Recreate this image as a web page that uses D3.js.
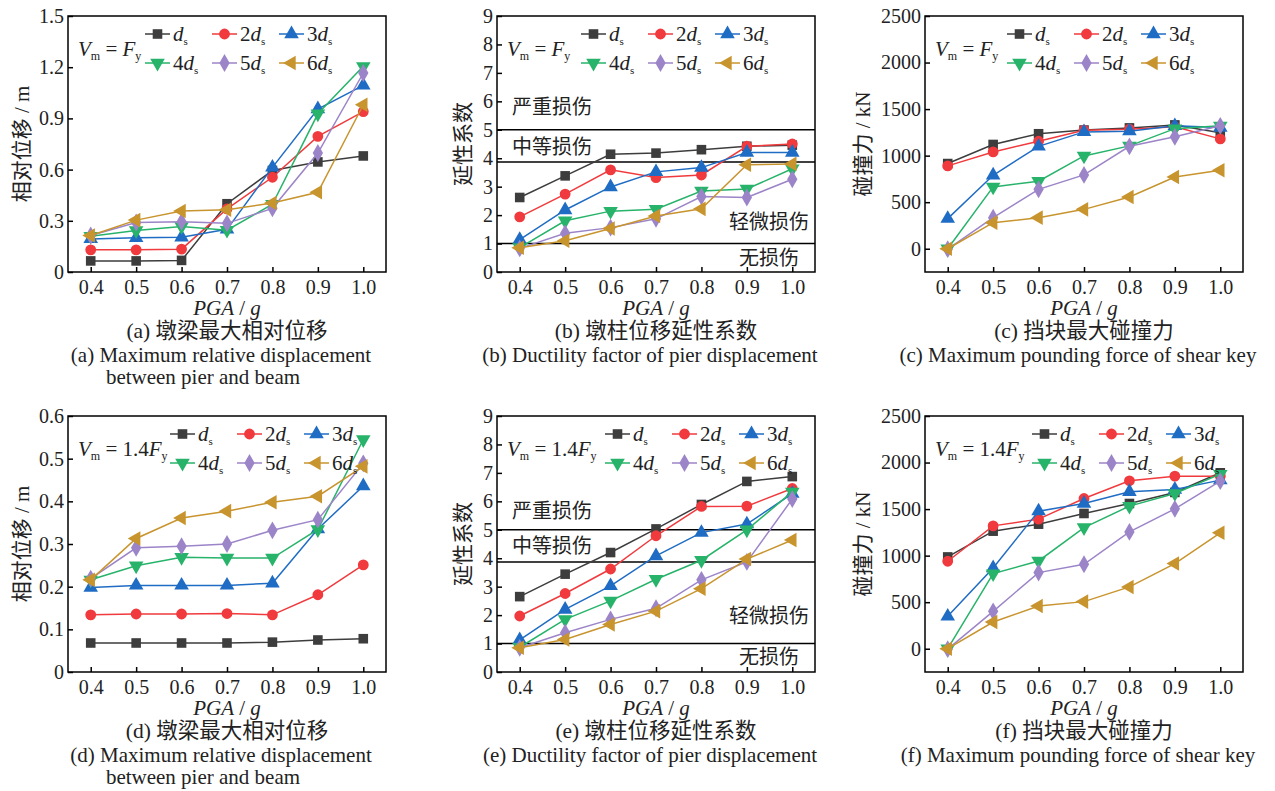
<!DOCTYPE html>
<html>
<head>
<meta charset="utf-8">
<script src="https://cdn.jsdelivr.net/npm/d3@7"></script>
<style>
  body { margin: 0; background: #fff; }
  svg { display: block; }
</style>
</head>
<body>
<div id="chart"></div>
<script>
// PGA levels (x axis)
const pga = [0.4, 0.5, 0.6, 0.7, 0.8, 0.9, 1.0];

// series: gap = d_s ... 6d_s
const seriesPrefix = ["", "2", "3", "4", "5", "6"];
const seriesColors = ["#3d3d3d", "#f03a3d", "#1f6cc4", "#27b36a", "#9c84c8", "#c8942e"];
const seriesSymbols = ["square", "circle", "up", "down", "diamond", "left"];

// (a) max relative displacement, Vm = Fy  (m)
const dispFy = [
  [0.065, 0.065, 0.068, 0.40, 0.595, 0.645, 0.68],
  [0.13, 0.13, 0.134, 0.37, 0.555, 0.795, 0.94],
  [0.194, 0.20, 0.204, 0.25, 0.613, 0.955, 1.094],
  [0.21, 0.243, 0.267, 0.245, 0.397, 0.927, 1.205],
  [0.214, 0.29, 0.295, 0.285, 0.373, 0.697, 1.166],
  [0.214, 0.304, 0.357, 0.365, 0.404, 0.467, 0.98]
];
// (b) ductility factor, Vm = Fy
const ductFy = [
  [2.62, 3.38, 4.14, 4.18, 4.30, 4.42, 4.46],
  [1.94, 2.74, 3.59, 3.32, 3.41, 4.42, 4.50],
  [1.14, 2.18, 2.99, 3.52, 3.67, 4.20, 4.20],
  [0.86, 1.80, 2.14, 2.21, 2.85, 2.92, 3.63],
  [0.83, 1.36, 1.56, 1.87, 2.65, 2.62, 3.26],
  [0.85, 1.10, 1.53, 1.97, 2.22, 3.77, 3.80]
];
// (c) max pounding force, Vm = Fy  (kN)
const forceFy = [
  [915, 1120, 1235, 1275, 1298, 1330, 1245],
  [890, 1040, 1155, 1273, 1284, 1310, 1180],
  [323, 789, 1100, 1255, 1263, 1320, 1302],
  [0, 664, 725, 997, 1105, 1290, 1320],
  [-5, 334, 638, 793, 1100, 1202, 1320],
  [0, 280, 334, 423, 556, 771, 843]
];
// (d) max relative displacement, Vm = 1.4Fy  (m)
const disp14 = [
  [0.068, 0.068, 0.068, 0.068, 0.070, 0.075, 0.078],
  [0.134, 0.136, 0.136, 0.137, 0.134, 0.181, 0.251],
  [0.198, 0.203, 0.203, 0.203, 0.208, 0.335, 0.436],
  [0.216, 0.249, 0.269, 0.267, 0.267, 0.334, 0.545],
  [0.219, 0.291, 0.295, 0.300, 0.332, 0.357, 0.489],
  [0.216, 0.313, 0.361, 0.377, 0.398, 0.412, 0.482]
];
// (e) ductility factor, Vm = 1.4Fy
const duct14 = [
  [2.65, 3.44, 4.20, 5.03, 5.89, 6.70, 6.87],
  [1.97, 2.76, 3.62, 4.79, 5.82, 5.83, 6.45],
  [1.13, 2.20, 3.03, 4.08, 4.90, 5.20, 6.27],
  [0.87, 1.85, 2.50, 3.26, 3.93, 5.00, 6.33],
  [0.85, 1.38, 1.85, 2.24, 3.24, 3.87, 6.08],
  [0.85, 1.14, 1.67, 2.14, 2.93, 3.97, 4.64]
];
// (f) max pounding force, Vm = 1.4Fy  (kN)
const force14 = [
  [986, 1263, 1338, 1453, 1560, 1679, 1890],
  [940, 1320, 1392, 1614, 1804, 1854, 1854],
  [348, 868, 1478, 1560, 1686, 1711, 1811],
  [0, 807, 943, 1302, 1532, 1668, 1876],
  [-5, 402, 818, 907, 1255, 1503, 1800],
  [0, 287, 459, 506, 664, 915, 1245]
];

// damage level thresholds and zone labels for ductility panels
const damageLines = [1, 3.87, 5];
const damageLabelsTop = [
  { text: "严重损伤", v: 5.8, side: "left" },
  { text: "中等损伤", v: 4.39, side: "left" },
  { text: "轻微损伤", v: 1.75, side: "right" },
  { text: "无损伤", v: 0.5, side: "right2" }
];
const damageLabelsBottom = [
  { text: "严重损伤", v: 5.68, side: "left" },
  { text: "中等损伤", v: 4.42, side: "left" },
  { text: "轻微损伤", v: 1.97, side: "right" },
  { text: "无损伤", v: 0.55, side: "right2" }
];

const dispTicks1 = [0, 0.3, 0.6, 0.9, 1.2, 1.5];
const dispTicks2 = [0, 0.1, 0.2, 0.3, 0.4, 0.5, 0.6];
const ductTicks = [0, 1, 2, 3, 4, 5, 6, 7, 8, 9];
const forceTicks = [0, 500, 1000, 1500, 2000, 2500];

const FONT = '"Liberation Serif", "Times New Roman", "Noto Sans CJK SC", serif';
const W = 318, H = 256;

const panels = [
  { left: 68, top: 16, data: dispFy, yDomain: [0, 1.5], ticks: dispTicks1, fmt: ".1f",
    yLabel: "相对位移 / m", yLabelX: 21, vm: "", legX: 77,
    cn: "(a) 墩梁最大相对位移", en: ["(a) Maximum relative displacement", "between pier and beam"] },
  { left: 497, top: 16, data: ductFy, yDomain: [0, 9], ticks: ductTicks, fmt: "d",
    yLabel: "延性系数", yLabelX: 462, vm: "", legX: 84, damage: damageLabelsTop,
    cn: "(b) 墩柱位移延性系数", en: ["(b) Ductility factor of pier displacement"] },
  { left: 925, top: 16, data: forceFy, yDomain: [-250, 2500], ticks: forceTicks, fmt: "d",
    yLabel: "碰撞力 / kN", yLabelX: 862, vm: "", legX: 82,
    cn: "(c) 挡块最大碰撞力", en: ["(c) Maximum pounding force of shear key"] },
  { left: 68, top: 416, data: disp14, yDomain: [0, 0.6], ticks: dispTicks2, fmt: ".1f",
    yLabel: "相对位移 / m", yLabelX: 21, vm: "1.4", legX: 102,
    cn: "(d) 墩梁最大相对位移", en: ["(d) Maximum relative displacement", "between pier and beam"] },
  { left: 497, top: 416, data: duct14, yDomain: [0, 9], ticks: ductTicks, fmt: "d",
    yLabel: "延性系数", yLabelX: 462, vm: "1.4", legX: 108, damage: damageLabelsBottom,
    cn: "(e) 墩柱位移延性系数", en: ["(e) Ductility factor of pier displacement"] },
  { left: 925, top: 416, data: force14, yDomain: [-250, 2500], ticks: forceTicks, fmt: "d",
    yLabel: "碰撞力 / kN", yLabelX: 862, vm: "1.4", legX: 107,
    cn: "(f) 挡块最大碰撞力", en: ["(f) Maximum pounding force of shear key"] }
];

const svg = d3.select("#chart").append("svg")
  .attr("width", 1275)
  .attr("height", 791)
  .attr("font-family", FONT);

function symbolPath(kind) {
  const s = 92;
  if (kind === "square") return d3.symbol().type(d3.symbolSquare).size(s)();
  if (kind === "circle") return d3.symbol().type(d3.symbolCircle).size(s)();
  if (kind === "diamond") return d3.symbol().type(d3.symbolDiamond).size(s)();
  return d3.symbol().type(d3.symbolTriangle).size(s)();
}
function symbolRotate(kind) {
  if (kind === "down") return 180;
  if (kind === "left") return -90;
  return 0;
}

panels.forEach(p => {
  const g = svg.append("g");
  const x = d3.scaleLinear().domain([0.35, 1.05]).range([p.left, p.left + W]);
  const y = d3.scaleLinear().domain(p.yDomain).range([p.top + H, p.top]);
  const fmt = d => d === 0 ? "0" : d3.format(p.fmt)(d);

  // axes with inward ticks
  g.append("g")
    .attr("transform", `translate(0,${p.top + H})`)
    .call(d3.axisBottom(x).tickValues(pga).tickFormat(d3.format(".1f"))
      .tickSizeInner(-5).tickSizeOuter(0).tickPadding(8))
    .call(a => a.select(".domain").remove())
    .attr("font-family", FONT).attr("font-size", 20)
    .call(a => a.selectAll("line").attr("stroke-width", 1.5))
    .call(a => a.selectAll("text").attr("fill", "#222"));

  g.append("g")
    .attr("transform", `translate(${p.left},0)`)
    .call(d3.axisLeft(y).tickValues(p.ticks).tickFormat(fmt)
      .tickSizeInner(-5).tickSizeOuter(0).tickPadding(4))
    .call(a => a.select(".domain").remove())
    .attr("font-family", FONT).attr("font-size", 20)
    .call(a => a.selectAll("line").attr("stroke-width", 1.5))
    .call(a => a.selectAll("text").attr("fill", "#222"));

  // damage thresholds
  if (p.damage) {
    g.selectAll(".dline").data(damageLines).join("line")
      .attr("x1", p.left).attr("x2", p.left + W)
      .attr("y1", d => y(d)).attr("y2", d => y(d))
      .attr("stroke", "#000").attr("stroke-width", 1.5);
    g.selectAll(".dlab").data(p.damage).join("text")
      .attr("x", d => d.side === "left" ? p.left + 15 : (d.side === "right" ? p.left + W - 6 : p.left + W - 16))
      .attr("y", d => y(d.v))
      .attr("dy", "0.36em")
      .attr("text-anchor", d => d.side === "left" ? "start" : "end")
      .attr("font-size", 20)
      .attr("fill", "#222")
      .text(d => d.text);
  }

  // series lines + markers
  p.data.forEach((vals, i) => {
    const pts = vals.map((v, j) => [pga[j], v]);
    g.append("path")
      .attr("d", d3.line().x(d => x(d[0])).y(d => y(d[1]))(pts))
      .attr("fill", "none")
      .attr("stroke", seriesColors[i])
      .attr("stroke-width", 1.5);
    g.selectAll(null).data(pts).join("path")
      .attr("d", symbolPath(seriesSymbols[i]))
      .attr("transform", d => `translate(${x(d[0])},${y(d[1])}) rotate(${symbolRotate(seriesSymbols[i])})`)
      .attr("fill", seriesColors[i]);
  });

  // frame
  g.append("rect")
    .attr("x", p.left).attr("y", p.top)
    .attr("width", W).attr("height", H)
    .attr("fill", "none").attr("stroke", "#000").attr("stroke-width", 1.5);

  // Vm label
  const vm = g.append("text")
    .attr("x", p.left + 10).attr("y", p.top + 40)
    .attr("font-size", 21).attr("fill", "#222");
  vm.append("tspan").attr("font-style", "italic").text("V");
  vm.append("tspan").attr("font-size", 12).attr("dy", 4).text("m");
  vm.append("tspan").attr("dy", -4).text(" = " + p.vm);
  vm.append("tspan").attr("font-style", "italic").text("F");
  vm.append("tspan").attr("font-size", 12).attr("dy", 4).text("y");

  // legend
  seriesPrefix.forEach((pre, i) => {
    const lx = p.left + p.legX + (i % 3) * 67;
    const ly = p.top + 18 + Math.floor(i / 3) * 29;
    g.append("line")
      .attr("x1", lx).attr("x2", lx + 25)
      .attr("y1", ly).attr("y2", ly)
      .attr("stroke", seriesColors[i]).attr("stroke-width", 1.5);
    g.append("path")
      .attr("d", symbolPath(seriesSymbols[i]))
      .attr("transform", `translate(${lx + 12.5},${ly}) rotate(${symbolRotate(seriesSymbols[i])})`)
      .attr("fill", seriesColors[i]);
    const t = g.append("text")
      .attr("x", lx + 28).attr("y", ly + 7)
      .attr("font-size", 21).attr("fill", "#222");
    if (pre) t.append("tspan").text(pre);
    t.append("tspan").attr("font-style", "italic").text("d");
    t.append("tspan").attr("font-size", 11).attr("dy", 4).text("s");
  });

  // y axis title
  g.append("text")
    .attr("transform", `translate(${p.yLabelX},${p.top + H / 2}) rotate(-90)`)
    .attr("text-anchor", "middle")
    .attr("dy", "0.36em")
    .attr("font-size", 21).attr("fill", "#222")
    .text(p.yLabel);

  // x axis title and captions
  const cx = p.left + W / 2;
  const xt = g.append("text")
    .attr("x", cx).attr("y", p.top + 299)
    .attr("text-anchor", "middle").attr("font-size", 21).attr("fill", "#222");
  xt.append("tspan").attr("font-style", "italic").text("PGA");
  xt.append("tspan").text(" / ");
  xt.append("tspan").attr("font-style", "italic").text("g");

  g.append("text")
    .attr("x", cx).attr("y", p.top + 322)
    .attr("text-anchor", "middle").attr("font-size", 21.5).attr("fill", "#222")
    .text(p.cn);
  p.en.forEach((line, k) => {
    g.append("text")
      .attr("x", k === 0 ? cx - 6 : cx - 24).attr("y", p.top + 346 + k * 22)
      .attr("text-anchor", "middle").attr("font-size", 21).attr("fill", "#222")
      .text(line);
  });
});
</script>
</body>
</html>
